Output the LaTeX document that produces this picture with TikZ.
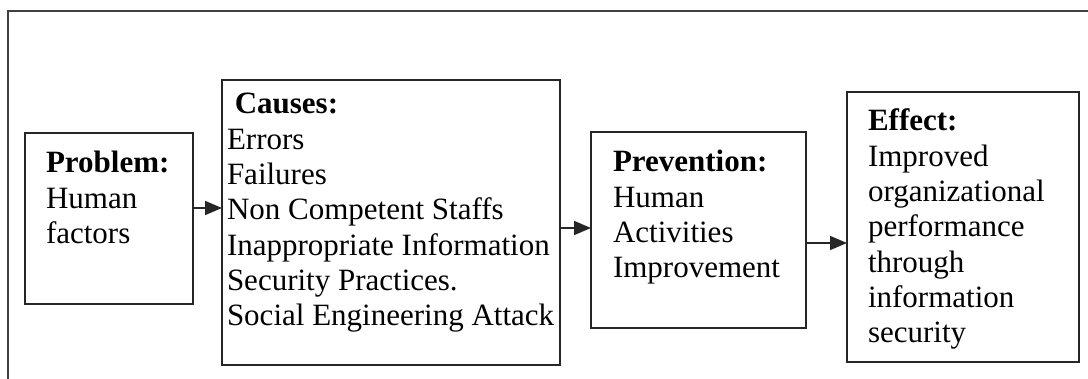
\documentclass[tikz,border=0pt]{standalone}
\usepackage{fontspec}
\setmainfont{Liberation Serif}
\usetikzlibrary{arrows.meta}
\begin{document}
\begin{tikzpicture}[x=1pt,y=-1pt,
  box/.style={draw=black!85, line width=1.8pt, inner sep=0pt, outer sep=0pt},
  txt/.style={inner sep=0pt, outer sep=0pt, anchor=base west, align=left,
    font=\fontsize{31}{35.3}\selectfont},
  arr/.style={line width=1.6pt, draw=black!85, -{Triangle[length=17pt,width=14pt]}},
  frame/.style={line width=1.8pt, draw=black!75}]
\useasboundingbox (0,0) rectangle (1088,379);
% outer open frame
\coordinate (fl) at (8,379);
\coordinate (fc) at (8,11);
\coordinate (fr) at (1088,11);
\draw[frame] (fl) -- (fc) -- (fr);
% boxes
\node[box, minimum width=168pt, minimum height=171pt] (prob) at (109,218.5) {};
\node[box, minimum width=338pt, minimum height=285pt] (caus) at (391,222.5) {};
\node[box, minimum width=215pt, minimum height=196pt] (prev) at (698.5,230) {};
\node[box, minimum width=232pt, minimum height=270pt] (eff) at (963,227) {};
% texts (anchored at the baseline of their last line)
\node[txt] (tprob) at (46,243.6) {\textbf{Problem:}\\Human\\factors};
\node[txt] (tcaus) at (227,325.8) {\ \textbf{Causes:}\\Errors\\Failures\\Non Competent Staffs\\Inappropriate Information\\Security Practices.\\Social Engineering Attack};
\node[txt] (tprev) at (613,277.9) {\textbf{Prevention:}\\Human\\Activities\\Improvement};
\node[txt] (teff) at (868,342.8) {\textbf{Effect:}\\Improved\\organizational\\performance\\through\\information\\security};
% arrows
\draw[arr] ([yshift=10.5pt]prob.east) -- ([yshift=10.5pt]prob.east -| caus.west);
\draw[arr] ([yshift=-5.5pt]caus.east) -- ([yshift=-5.5pt]caus.east -| prev.west);
\draw[arr] ([yshift=-13pt]prev.east) -- ([yshift=-13pt]prev.east -| eff.west);
\end{tikzpicture}
\end{document}
